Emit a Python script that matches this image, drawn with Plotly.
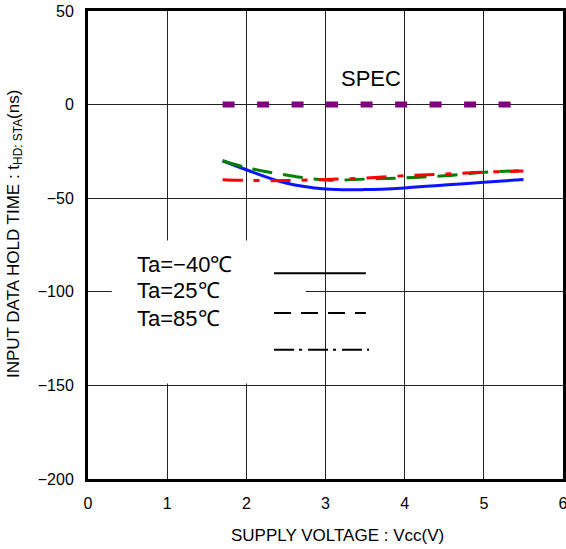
import plotly.graph_objects as go

# ---- data ----
vcc = [1.7, 2.0, 2.5, 3.0, 3.5, 4.0, 4.5, 5.0, 5.5]
t_m40 = [-30.0, -34.8, -41.9, -45.1, -45.4, -44.5, -43.0, -41.5, -40.0]
t_25 = [-30.0, -33.6, -37.6, -40.3, -39.8, -39.1, -38.0, -36.2, -35.2]
t_85 = [-40.1, -40.5, -40.6, -40.0, -39.2, -38.0, -37.1, -36.1, -35.5]
spec_x = [1.7, 5.5]
spec_y = [0, 0]

legend_labels = ["Ta=\u221240\u2103", "Ta=25\u2103", "Ta=85\u2103"]
x_ticks = [0, 1, 2, 3, 4, 5, 6]
y_ticks = [50, 0, -50, -100, -150, -200]

FONT = "Liberation Sans, Arial, sans-serif"

fig = go.Figure()
fig.add_trace(go.Scatter(x=vcc, y=t_m40, mode="lines", line=dict(color="#0a14ff", width=3, shape="spline"),
                         showlegend=False))
fig.add_trace(go.Scatter(x=vcc, y=t_25, mode="lines",
                         line=dict(color="#008000", width=3, shape="spline", dash="20px,11px"),
                         showlegend=False))
fig.add_trace(go.Scatter(x=vcc, y=t_85, mode="lines",
                         line=dict(color="#ff0000", width=3, shape="spline", dash="20px,11px,6px,11px"),
                         showlegend=False))
fig.add_trace(go.Scatter(x=spec_x, y=spec_y, mode="lines",
                         line=dict(color="#800080", width=6, dash="12px,22.5px"),
                         showlegend=False))

# legend box (white, covers grid)
fig.add_shape(type="rect", xref="x", yref="y", x0=0.3, x1=2.75, y0=-149, y1=-72.6,
              fillcolor="white", line=dict(width=0), layer="between")
# legend samples
sample_y = [-90.1, -111.3, -131.0]
sample_dash = ["solid", "17px,10px", "20px,5px,3px,6px"]
for yy, dd, x1 in zip(sample_y, sample_dash, [3.51, 3.51, 3.55]):
    fig.add_shape(type="line", xref="x", yref="y", x0=2.35, x1=x1, y0=yy, y1=yy,
                  line=dict(color="black", width=2, dash=dd), layer="above")
label_y = [-85.3, -99.5, -114.3]
for lab, yy in zip(legend_labels, label_y):
    fig.add_annotation(x=0.59, y=yy, xref="x", yref="y", text=lab, showarrow=False,
                       xanchor="left", yanchor="middle", font=dict(family=FONT, size=22, color="black"))

fig.add_annotation(x=3.58, y=13.8, xref="x", yref="y", text="SPEC", showarrow=False,
                   xanchor="center", yanchor="middle", font=dict(family=FONT, size=22, color="black"))

fig.add_annotation(x=-0.154, y=0.523, xref="paper", yref="paper", textangle=-90,
                   text="INPUT DATA HOLD TIME : t<sub>HD: STA</sub>(ns)", showarrow=False,
                   xanchor="center", yanchor="middle", font=dict(family=FONT, size=17, color="black"))
fig.add_annotation(x=0.525, y=-0.12, xref="paper", yref="paper",
                   text="SUPPLY VOLTAGE : Vcc(V)", showarrow=False,
                   xanchor="center", yanchor="middle", font=dict(family=FONT, size=17, color="black"))

fig.update_xaxes(range=[0, 6], tickvals=x_ticks, ticktext=[str(v) for v in x_ticks],
                 showgrid=True, gridcolor="#222", gridwidth=1, zeroline=False,
                 showline=True, linecolor="black", linewidth=3, mirror=True,
                 ticks="", ticklabelstandoff=8, automargin=False, ticklabeloverflow="allow",
                 tickfont=dict(family=FONT, size=16, color="black"))
fig.update_yaxes(range=[-200, 50], tickvals=y_ticks,
                 ticktext=[str(v).replace("-", "\u2212") for v in y_ticks],
                 showgrid=True, gridcolor="#222", gridwidth=1, zeroline=False,
                 showline=True, linecolor="black", linewidth=3, mirror=True,
                 ticks="", ticklabelstandoff=8, automargin=False, ticklabeloverflow="allow",
                 tickfont=dict(family=FONT, size=16, color="black"))

fig.update_layout(width=566, height=549, margin=dict(l=88, r=3, t=11, b=70),
                  plot_bgcolor="white", paper_bgcolor="white", showlegend=False)

fig.write_html("out.html", config={"displayModeBar": False},
               post_script="document.body.style.margin='0px';")
